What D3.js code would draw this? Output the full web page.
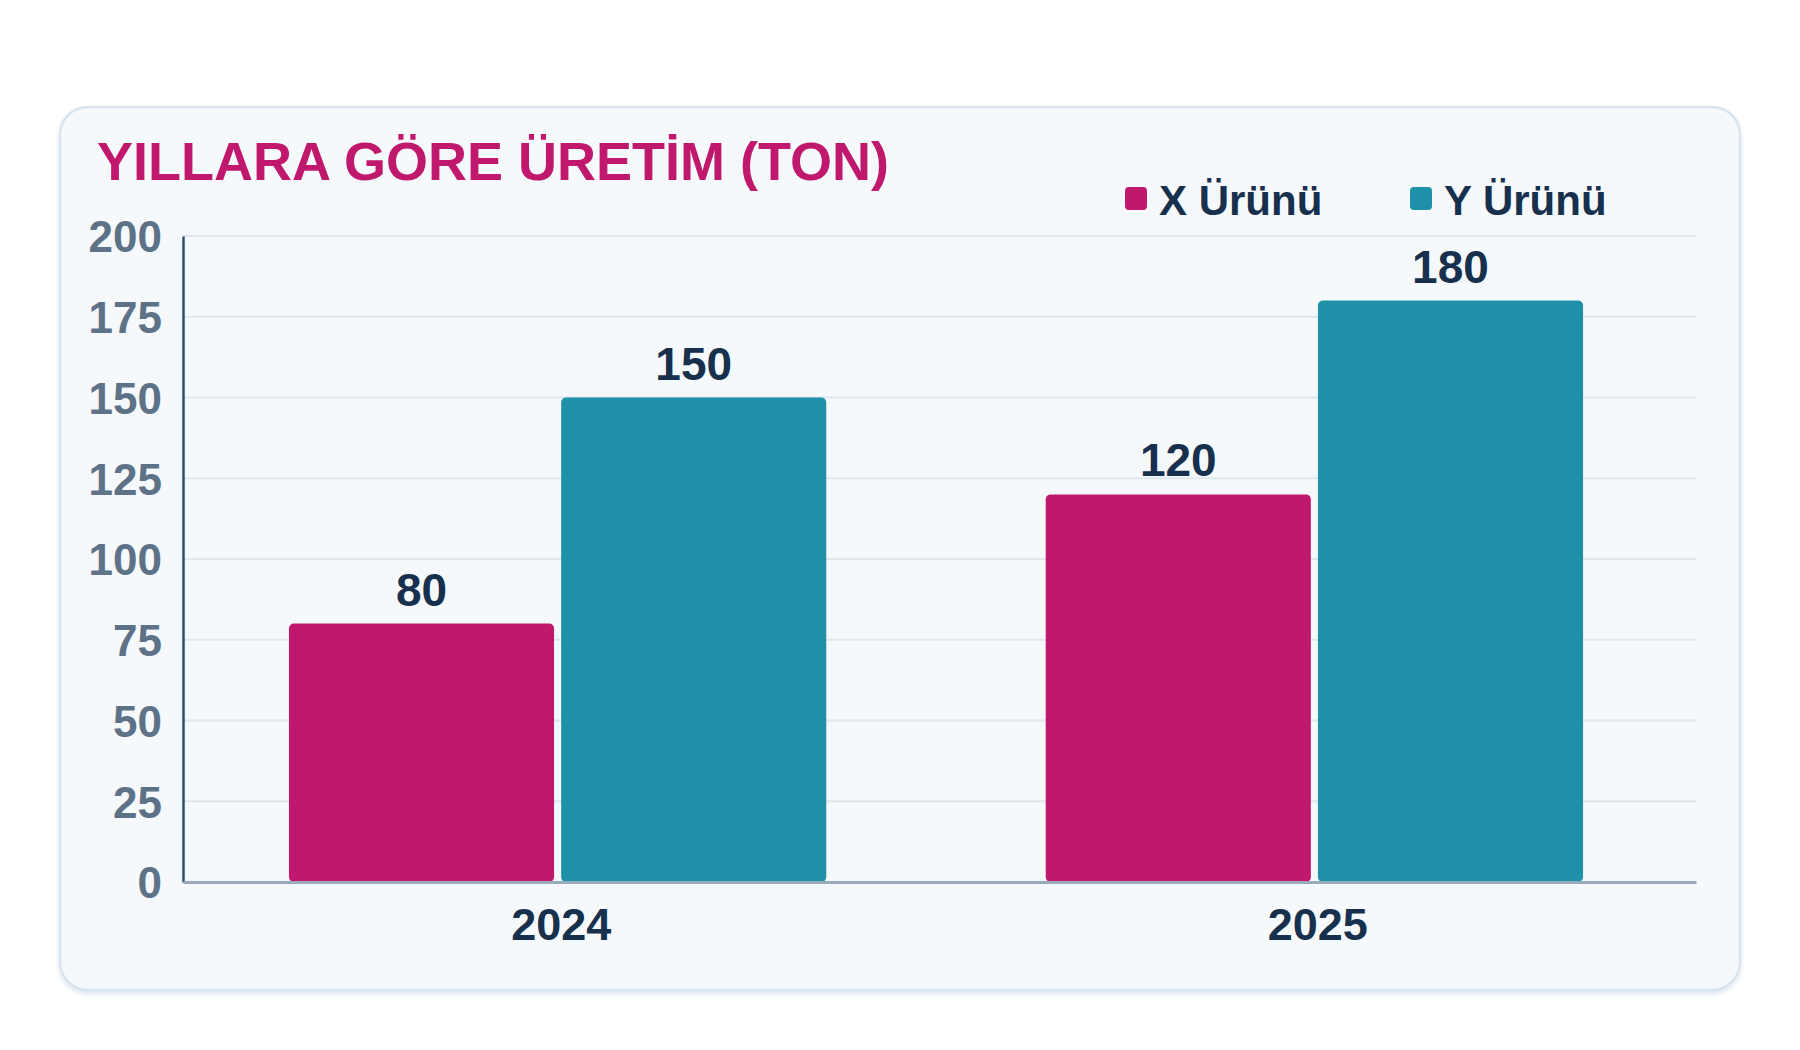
<!DOCTYPE html>
<html lang="tr">
<head>
<meta charset="utf-8">
<title>Yıllara Göre Üretim</title>
<script src="https://cdn.jsdelivr.net/npm/d3@7"></script>
<style>
  html, body { margin: 0; padding: 0; background: #ffffff; }
  svg text { font-family: "Liberation Sans", Arial, Helvetica, sans-serif; font-weight: bold; }
</style>
</head>
<body>
<div id="chart"></div>
<script>
// Data
const years = ["2024", "2025"];
const seriesNames = ["X Ürünü", "Y Ürünü"];
const xUrunu = [80, 120];
const yUrunu = [150, 180];
const yTicks = [0, 25, 50, 75, 100, 125, 150, 175, 200];
const titleText = "YILLARA GÖRE ÜRETİM (TON)";

const seriesColors = ["#c0186c", "#1e91a9"];
const navy = "#17304d";
const slate = "#5e7287";

const width = 1800, height = 1050;
const margin = { top: 236, right: 104, bottom: 168, left: 183 };
const barsRight = 1689; // bar groups sit a bit left of the grid's end

const svg = d3.select("#chart")
    .append("svg")
    .attr("width", width)
    .attr("height", height);

// soft shadow under the card
const defs = svg.append("defs");
const shadow = defs.append("filter").attr("id", "shadow")
    .attr("x", "-5%").attr("y", "-5%").attr("width", "110%").attr("height", "115%");
shadow.append("feDropShadow")
    .attr("dx", 0).attr("dy", 3).attr("stdDeviation", 2)
    .attr("flood-color", "#b9cddd").attr("flood-opacity", 0.45);

// Card
svg.append("rect")
    .attr("x", 60).attr("y", 107)
    .attr("width", 1680).attr("height", 883)
    .attr("rx", 28)
    .attr("fill", "#f5f9fc")
    .attr("stroke", "#d9e5ee")
    .attr("stroke-width", 2.5)
    .attr("filter", "url(#shadow)");

// Title
svg.append("text")
    .attr("x", 97).attr("y", 180)
    .attr("fill", seriesColors[0])
    .style("font-size", "54px")
    .text(titleText);

// Scales
const x0 = d3.scaleBand()
    .domain(years)
    .range([margin.left, barsRight])
    .paddingInner(0.29)
    .paddingOuter(0.14);

// year labels are centred on the full grid width
const xLabel = d3.scaleBand()
    .domain(years)
    .range([margin.left, width - margin.right]);

const x1 = d3.scaleBand()
    .domain(seriesNames)
    .range([0, x0.bandwidth()])
    .paddingInner(0.026);

const y = d3.scaleLinear()
    .domain([0, 200])
    .range([height - margin.bottom, margin.top]);

const color = d3.scaleOrdinal().domain(seriesNames).range(seriesColors);

// Grid
svg.append("g")
    .attr("class", "grid")
    .selectAll("line")
    .data(yTicks.filter(d => d > 0))
    .join("line")
    .attr("x1", margin.left).attr("x2", width - margin.right)
    .attr("y1", d => y(d)).attr("y2", d => y(d))
    .attr("stroke", "#dfe6ed")
    .attr("stroke-width", 2);

// Y axis
const yAxis = svg.append("g")
    .attr("transform", `translate(${margin.left},0)`)
    .call(d3.axisLeft(y).tickValues(yTicks).tickSize(0).tickPadding(21));
yAxis.select(".domain")
    .attr("stroke", "#2b4f6e")
    .attr("stroke-width", 2.5);
yAxis.selectAll("text")
    .attr("fill", slate)
    .attr("dy", "0.36em")
    .style("font-size", "44px");

// Bars
const rows = years.map((yr, i) => ({ year: yr, values: [xUrunu[i], yUrunu[i]] }));

const groups = svg.append("g")
    .selectAll("g")
    .data(rows)
    .join("g")
    .attr("transform", d => `translate(${x0(d.year)},0)`);

groups.selectAll("rect")
    .data(d => d.values.map((v, j) => ({ key: seriesNames[j], value: v })))
    .join("rect")
    .attr("x", d => x1(d.key))
    .attr("y", d => y(d.value))
    .attr("width", x1.bandwidth())
    .attr("height", d => y(0) - y(d.value))
    .attr("rx", 5)
    .attr("fill", d => color(d.key));

groups.selectAll("text.value")
    .data(d => d.values.map((v, j) => ({ key: seriesNames[j], value: v })))
    .join("text")
    .attr("class", "value")
    .attr("x", d => x1(d.key) + x1.bandwidth() / 2)
    .attr("y", d => y(d.value) - 18)
    .attr("text-anchor", "middle")
    .attr("fill", navy)
    .style("font-size", "46px")
    .text(d => d.value);

// X axis
const xAxis = svg.append("g")
    .attr("transform", `translate(0,${y(0)})`)
    .call(d3.axisBottom(xLabel).tickSize(0).tickPadding(26));
xAxis.select(".domain")
    .attr("stroke", "#97abbd")
    .attr("stroke-width", 3);
xAxis.selectAll("text")
    .attr("fill", navy)
    .attr("dy", "0.71em")
    .style("font-size", "45px");

// Legend
const legendX = [1125, 1410];
const legend = svg.append("g")
    .selectAll("g")
    .data(seriesNames)
    .join("g")
    .attr("transform", (d, i) => `translate(${legendX[i]},187)`);
legend.append("rect")
    .attr("width", 22).attr("height", 23)
    .attr("rx", 4)
    .attr("fill", d => color(d));
legend.append("text")
    .attr("x", 34).attr("y", 28)
    .attr("fill", navy)
    .style("font-size", "42px")
    .text(d => d);
</script>
</body>
</html>
